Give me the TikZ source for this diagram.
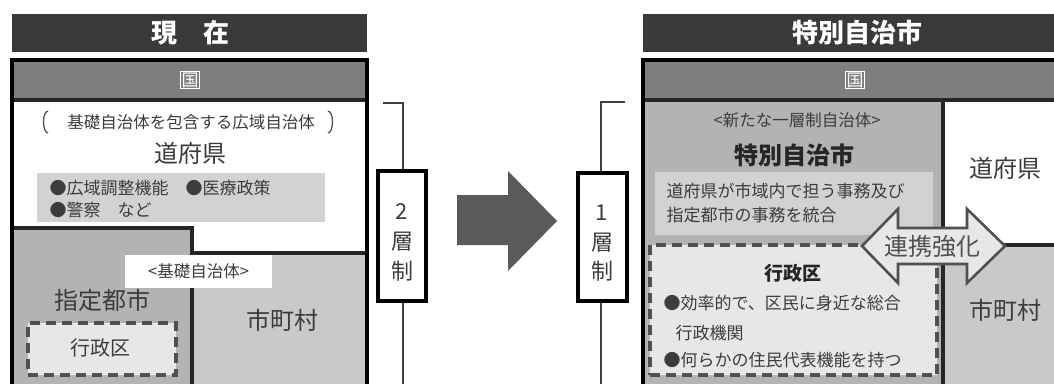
\documentclass[tikz,border=0pt]{standalone}
\usepackage{fontspec}
\setmainfont{Noto Sans CJK JP}
\begin{document}
\begin{tikzpicture}[x=1pt,y=-1pt,
  titlebar/.style={fill=tbar,draw=none},
  ttext/.style={text=white,font=\bfseries\fontsize{26}{28}\selectfont},
  kuni/.style={text=white,font=\fontsize{17}{18}\selectfont,draw=white,line width=1.2pt,inner sep=1pt},
  big/.style={text=txt,font=\fontsize{24}{26}\selectfont},
  small/.style={text=txt,font=\fontsize{16.5}{18}\selectfont},
  mid/.style={text=txt,font=\fontsize{17}{19}\selectfont},
  border/.style={draw=black,line width=4.2pt},
  sep/.style={draw=black!85,line width=3.4pt},
  dashbox/.style={draw=dgray,line width=3.4pt,dash pattern=on 10pt off 6pt,fill=lgray},
  layerbox/.style={draw=black,line width=4pt,fill=white},
  layertext/.style={text=txt,font=\fontsize{22}{24}\selectfont},
  brace/.style={draw=bgray,line width=2.8pt},
]
\definecolor{tbar}{HTML}{3A3A3A}
\definecolor{kbar}{HTML}{7E7E7E}
\definecolor{g1}{HTML}{B3B3B3}
\definecolor{g2}{HTML}{C9C9C9}
\definecolor{g3}{HTML}{D2D2D2}
\definecolor{lgray}{HTML}{E7E7E7}
\definecolor{dgray}{HTML}{505050}
\definecolor{bgray}{HTML}{404040}
\definecolor{txt}{HTML}{3C3C3C}
\definecolor{arr}{HTML}{5A5A5A}
\useasboundingbox (0,0) rectangle (1054,383);
\fill[white] (0,0) rectangle (1054,383);
\begin{scope}
\clip (0,0) rectangle (1054,383);
% ---------------- left panel ----------------
\fill[titlebar] (12,14) rectangle (367,52);
\node[ttext] (t1) at (190,33) {現\quad 在};
\fill[kbar] (12,60) rectangle (367,100);
\node[kuni] (k1) at (190,80) {国};
\fill[g1] (12,228) rectangle (192,400);
\fill[g2] (192,253) rectangle (367,400);
\draw[sep] (12,100) -- (367,100);
\draw[sep] (12,228) -- (192,228) -- (192,400);
\draw[sep] (192,253) -- (367,253);
\draw[border] (12,60) rectangle (367,400);
\fill[g3] (37,173) rectangle (325,222);
\node[small] (sub1) at (191,122) {基礎自治体を包含する広域自治体};
\draw[dgray,line width=1.3pt] (48,111) .. controls (42,112) and (42,132) .. (48,133);
\draw[dgray,line width=1.3pt] (328,111) .. controls (334,112) and (334,132) .. (328,133);
\node[big] (dfk1) at (190,153) {道府県};
\node[mid,anchor=west] (f1) at (46,188) {●広域調整機能\quad ●医療政策};
\node[mid,anchor=west] (f2) at (46,210) {●警察\quad など};
\node[fill=white,minimum width=147pt,minimum height=33pt,inner sep=0pt,small] (kiso) at (198.5,271.5) {<基礎自治体>};
\node[big] (shitei) at (102,300) {指定都市};
\node[dashbox,minimum width=148pt,minimum height=52pt,inner sep=0pt] (gk1) at (102,349) {};
\node[text=txt,font=\fontsize{20}{22}\selectfont] (gk1t) at (100,348) {行政区};
\node[big] (scs1) at (282,320) {市町村};
% brackets and layer boxes
\coordinate (b1top) at (383,103);
\coordinate (b1c) at (403,103);
\coordinate (b1bot) at (403,400);
\node[layerbox,minimum width=48pt,minimum height=130pt,inner sep=0pt] (L2) at (402,236) {};
\draw[brace] (b1top) -- (b1c) -- (L2.north -| b1c);
\draw[brace] (L2.south -| b1c) -- (b1bot);
\node[layertext] (L2a) at (402,212) {2};
\node[layertext] (L2b) at (402,242) {層};
\node[layertext] (L2c) at (402,271) {制};
% big arrow
\fill[arr] (457,195) -- (508,195) -- (508,171) -- (557,221) -- (508,271) -- (508,245) -- (457,245) -- cycle;
\coordinate (b2top) at (625,102);
\coordinate (b2c) at (601,102);
\coordinate (b2bot) at (601,400);
\node[layerbox,minimum width=49pt,minimum height=128pt,inner sep=0pt] (L1) at (602.5,237) {};
\draw[brace] (b2top) -- (b2c) -- (L1.north -| b2c);
\draw[brace] (L1.south -| b2c) -- (b2bot);
\node[layertext] (L1a) at (602,213) {1};
\node[layertext] (L1b) at (602,243) {層};
\node[layertext] (L1c) at (602,271) {制};
% ---------------- right panel ----------------
\fill[titlebar] (643,14) rectangle (1070,52);
\node[ttext] (t2) at (857,33) {特別自治市};
\fill[kbar] (643,60) rectangle (1070,100);
\node[kuni] (k2) at (855,80) {国};
\fill[g1] (643,100) rectangle (943,400);
\fill[g2] (943,245) rectangle (1070,400);
\draw[sep] (643,100) -- (1070,100);
\draw[sep] (943,100) -- (943,400);
\draw[sep] (943,245) -- (1070,245);
\draw[border] (643,60) rectangle (1070,400);
\node[small] (nsub) at (797,120) {<新たな一層制自治体>};
\node[text=black!85,font=\bfseries\fontsize{24}{26}\selectfont] (tj) at (794,155) {特別自治市};
\fill[g3] (655,172) rectangle (933,235);
\node[mid,anchor=west] (i1) at (663,191) {道府県が市域内で担う事務及び};
\node[mid,anchor=west] (i2) at (663,215) {指定都市の事務を統合};
\node[dashbox,minimum width=287pt,minimum height=130pt,inner sep=0pt] (gk2) at (793.5,310) {};
\node[text=black!85,font=\bfseries\fontsize{19}{21}\selectfont] (gk2t) at (793,273) {行政区};
\node[mid,anchor=west] (g1a) at (660,303) {●効率的で、区民に身近な総合};
\node[mid,anchor=west] (g1b) at (672,333) {行政機関};
\node[mid,anchor=west] (g1c) at (660,360) {●何らかの住民代表機能を持つ};
\node[big] (dfk2) at (1005,168) {道府県};
\node[big] (scs2) at (1005,310) {市町村};
% double arrow
\draw[fill=lgray,draw=dgray,line width=2.6pt,line join=miter]
  (862,246) -- (898,209) -- (898,228) -- (967,228) -- (967,209) -- (1005,246)
  -- (967,283) -- (967,264) -- (898,264) -- (898,283) -- cycle;
\node[text=dgray,font=\fontsize{24}{26}\selectfont] (renkei) at (932,246) {連携強化};
\end{scope}
\end{tikzpicture}
\end{document}
